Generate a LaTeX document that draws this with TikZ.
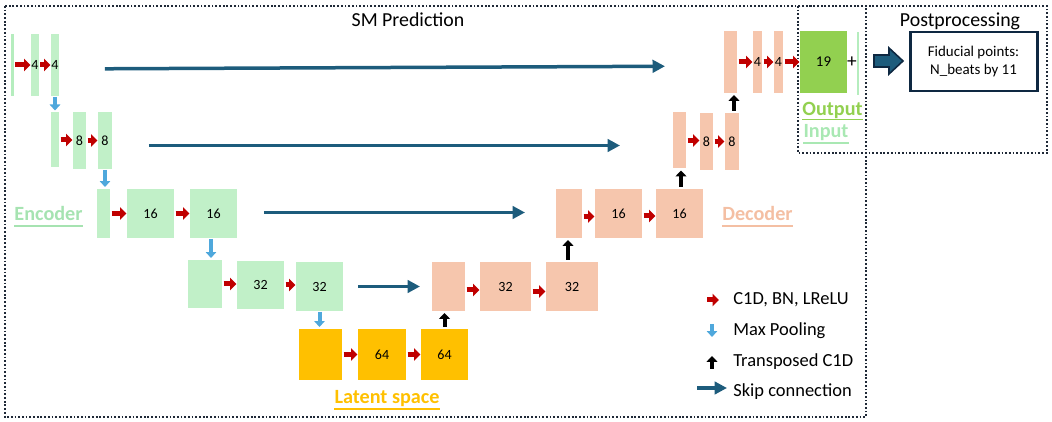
\documentclass[tikz,border=0pt]{standalone}
\usepackage{fontspec}
\setmainfont{Carlito}
\usetikzlibrary{arrows.meta}
\definecolor{encg}{HTML}{C1F0C8}
\definecolor{decs}{HTML}{F6C6AD}
\definecolor{latg}{HTML}{FFC000}
\definecolor{outg}{HTML}{92D050}
\definecolor{redar}{HTML}{C00000}
\definecolor{poolb}{HTML}{4FA8DC}
\definecolor{skipb}{HTML}{1D5C7C}
\definecolor{navy}{HTML}{0E2841}
\definecolor{frm}{HTML}{1F2937}
\definecolor{enclab}{HTML}{A6E3B1}
\definecolor{declab}{HTML}{F4BFA3}
\definecolor{inlab}{HTML}{A9E8B3}
\definecolor{inline}{HTML}{B5EDBE}
\begin{document}
\begin{tikzpicture}[x=0.02cm,y=-0.02cm,
  blk/.style={inner sep=0pt, outer sep=0pt, font=\fontsize{8}{9}\selectfont},
  bx/.style 2 args={minimum width=#1*0.02cm, minimum height=#2*0.02cm},
  encb/.style={blk, fill=encg},
  decb/.style={blk, fill=decs},
  latb/.style={blk, fill=latg},
  conv/.style={draw=redar, line width=0.1cm, shorten <=0.03cm, shorten >=0.01cm,
     -{Triangle[length=0.13cm,width=0.25cm]}},
  pool/.style={draw=poolb, line width=0.08cm, shorten <=0.02cm, shorten >=0.04cm,
     -{Triangle[length=0.12cm,width=0.21cm]}},
  uparr/.style={draw=black, line width=0.08cm, shorten <=0.04cm, shorten >=0.04cm,
     -{Triangle[length=0.12cm,width=0.22cm]}},
  skipc/.style={draw=skipb, line width=0.07cm, -{Triangle[length=0.25cm,width=0.25cm]}},
  frame/.style={draw=frm, line width=1.1pt, dash pattern=on 1pt off 1.1pt},
  lab/.style={font=\fontsize{11.5}{13}\selectfont\bfseries, anchor=base, inner sep=0pt},
  uline/.style={line width=1.1pt},
  leg/.style={font=\fontsize{10.5}{12}\selectfont, anchor=west, inner sep=0pt},
  ttl/.style={font=\fontsize{11.3}{13}\selectfont, anchor=base, inner sep=0pt}
]
\useasboundingbox (0,0) rectangle (1052,422);

% frames
\draw[frame] (5,6) rectangle (866,417);
\draw[frame] (798,6) rectangle (1047,153);
\node[ttl] (t1) at (408,27) {SM Prediction};
\node[ttl] (t2) at (960,27) {Postprocessing};

% encoder row 1
\node[blk, fill=inline, bx={3}{62}] (in1) at (12.5,65) {};
\node[encb, bx={8}{62}] (e1a) at (35,65) {4};
\node[encb, bx={8}{62}] (e1b) at (55,65) {4};
% row 2
\node[encb, bx={8}{55}] (e2a) at (55,140) {};
\node[encb, bx={13}{57}] (e2b) at (79.5,140.5) {8};
\node[encb, bx={14}{57}] (e2c) at (105,140.5) {8};
% row 3
\node[encb, bx={13}{49}] (e3a) at (103.5,213.5) {};
\node[encb, bx={47}{49}] (e3b) at (150.5,213.5) {16};
\node[encb, bx={47}{49}] (e3c) at (213.5,213.5) {16};
% row 4
\node[encb, bx={34}{48}] (e4a) at (205,284) {};
\node[encb, bx={47}{48}] (e4b) at (260.5,285) {32};
\node[encb, bx={47}{49}] (e4c) at (319.5,286.5) {32};
% latent
\node[latb, bx={43}{51}] (l1) at (320.5,354.5) {};
\node[latb, bx={48}{51}] (l2) at (382,354.5) {64};
\node[latb, bx={47}{51}] (l3) at (444.5,354.5) {64};
% decoder row 4
\node[decb, bx={33}{49}] (d4a) at (448.5,286.5) {};
\node[decb, bx={51}{49}] (d4b) at (505.5,286.5) {32};
\node[decb, bx={52}{49}] (d4c) at (572,286.5) {32};
% decoder row 3
\node[decb, bx={26}{49}] (d3a) at (569,213.5) {};
\node[decb, bx={47}{49}] (d3b) at (618.5,213.5) {16};
\node[decb, bx={47}{49}] (d3c) at (679.5,213.5) {16};
% decoder row 2
\node[decb, bx={13}{56}] (d2a) at (679.5,140.5) {};
\node[decb, bx={13}{57}] (d2b) at (706.5,141.5) {8};
\node[decb, bx={14}{57}] (d2c) at (732,141.5) {8};
% decoder row 1
\node[decb, bx={13}{62}] (d1a) at (730.5,62) {};
\node[decb, bx={9}{62}] (d1b) at (757.5,62) {4};
\node[decb, bx={9}{62}] (d1c) at (778.5,62) {4};
% output
\node[blk, fill=outg, bx={47}{62}, font=\fontsize{8.5}{9}\selectfont] (out) at (823.5,62) {19};
\node[inner sep=0pt, font=\fontsize{11}{12}\selectfont] (plus) at (852,62) {+};
\node[blk, fill=inline, bx={2.5}{63}] (in2) at (858,63.5) {};

% conv arrows
\draw[conv] (in1.east) -- (e1a.west);
\draw[conv] (e1a.east) -- (e1b.west);
\draw[conv] (e2a.east) -- (e2a.east -| e2b.west);
\draw[conv] (e2b.east) -- (e2c.west);
\draw[conv] (e3a.east) -- (e3b.west);
\draw[conv] (e3b.east) -- (e3c.west);
\draw[conv] (e4a.east) -- (e4a.east -| e4b.west);
\draw[conv] (e4b.east) -- (e4b.east -| e4c.west);
\draw[conv] (l1.east) -- (l2.west);
\draw[conv] (l2.east) -- (l3.west);
\draw[conv] ([yshift=-0.07cm]d4a.east) -- ([yshift=-0.07cm]d4b.west);
\draw[conv] ([yshift=-0.1cm]d4b.east) -- ([yshift=-0.1cm]d4c.west);
\draw[conv] ([yshift=-0.06cm]d3a.east) -- ([yshift=-0.06cm]d3b.west);
\draw[conv] ([yshift=-0.05cm]d3b.east) -- ([yshift=-0.05cm]d3c.west);
\draw[conv] (d2a.east) -- (d2a.east -| d2b.west);
\draw[conv] (d2b.east) -- (d2b.east -| d2c.west);
\draw[conv] (d1a.east) -- (d1b.west);
\draw[conv] (d1b.east) -- (d1c.west);
\draw[conv] (d1c.east) -- (out.west);

% max pooling
\draw[pool] (e1b.south) -- (e1b.south |- e2a.north);
\draw[pool] (e2c.south) -- (e2c.south |- e3a.north);
\draw[pool] ([xshift=-0.05cm]e3c.south) -- ([xshift=-0.05cm]e3c.south |- e4a.north);
\draw[pool] (e4c.south) -- (e4c.south |- l1.north);

% transposed conv
\draw[uparr] (l3.north) -- (l3.north |- d4a.south);
\draw[uparr] ([xshift=-0.08cm]d4c.north) -- ([xshift=-0.08cm]d4c.north |- d3a.south);
\draw[uparr] ([xshift=0.03cm]d3c.north) -- ([xshift=0.03cm]d3c.north |- d2a.south);
\draw[uparr] ([xshift=0.04cm]d2c.north) -- ([xshift=0.04cm]d2c.north |- d1a.south);

% skip connections
\draw[skipc, shorten <=0.92cm, shorten >=1.18cm] ([yshift=-0.08cm]e1b.east) -- ([yshift=-0.08cm]d1a.west);
\draw[skipc, shorten <=0.74cm, shorten >=1.06cm] ([yshift=-0.1cm]e2c.east) -- ([yshift=-0.1cm]d2a.west);
\draw[skipc, shorten <=0.54cm, shorten >=0.62cm] ([yshift=0.02cm]e3c.east) -- ([yshift=0.02cm]d3a.west);
\draw[skipc, shorten <=0.3cm, shorten >=0.24cm] (e4c.east) -- (d4a.west);

% labels (underlined)
\node[lab, text=enclab] (enc) at (48.5,221) {Encoder};
\draw[uline, enclab] ([yshift=-3pt]enc.base west) -- ([yshift=-3pt]enc.base east);
\node[lab, text=declab] (dec) at (757.5,221) {Decoder};
\draw[uline, declab] ([yshift=-3pt]dec.base west) -- ([yshift=-3pt]dec.base east);
\node[lab, text=latg] (lat) at (387,403) {Latent space};
\draw[uline, latg] ([yshift=-3.3pt]lat.base west) -- ([yshift=-3.3pt]lat.base east);
\node[lab, text=outg] (outl) at (832.5,116) {Output};
\draw[uline, outg] ([yshift=-2pt]outl.base west) -- ([yshift=-2pt]outl.base east);
\node[lab, text=inlab] (inl) at (826,138) {Input};
\draw[uline, inlab] ([yshift=-3pt]inl.base west) -- ([yshift=-3pt]inl.base east);

% postprocessing
\node[draw=navy, line width=1.7pt, minimum width=127*0.02cm, minimum height=59*0.02cm,
      align=center, font=\fontsize{8.5}{10}\selectfont] (fid) at (973.5,61.5)
      {Fiducial points:\\N\_beats by 11};
\coordinate (bigA) at (874,61);
\filldraw[draw=navy, fill=skipb, line width=0.9pt]
  (bigA) ++(0,-6) -- ++(15,0) -- ++(0,-7) -- ++(14,13) -- ++(-14,13) -- ++(0,-7) -- ++(-15,0) -- cycle;

% legend
\coordinate (r1) at (707,300); \coordinate (r2) at (719,300);
\draw[conv, shorten <=0pt, shorten >=0pt] (r1) -- (r2);
\node[leg] (lg1) at (733,300) {C1D, BN, LReLU};
\coordinate (p1) at (712,324); \coordinate (p2) at (712,337);
\draw[pool, shorten <=0pt, shorten >=0pt] (p1) -- (p2);
\node[leg] (lg2) at (733,331) {Max Pooling};
\coordinate (u1) at (712,369); \coordinate (u2) at (712,356);
\draw[uparr, shorten <=0pt, shorten >=0pt] (u1) -- (u2);
\node[leg] (lg3) at (733,362) {Transposed C1D};
\coordinate (s1) at (697,388); \coordinate (s2) at (727,388);
\draw[skipc] (s1) -- (s2);
\node[leg] (lg4) at (733,392) {Skip connection};
\end{tikzpicture}
\end{document}
